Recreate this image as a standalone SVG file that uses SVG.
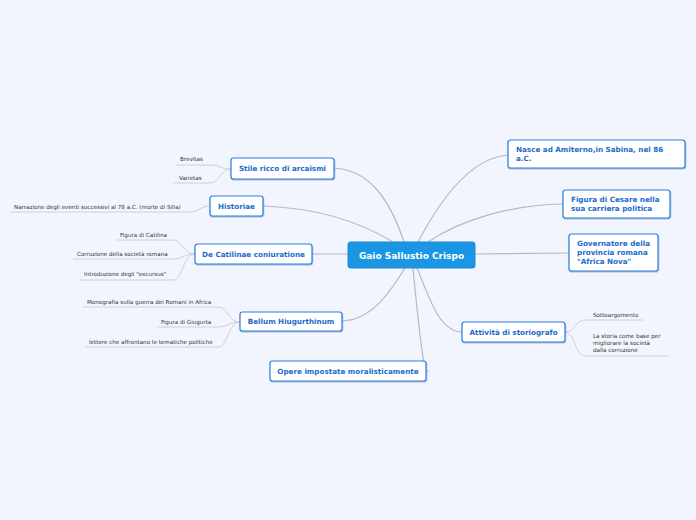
<svg xmlns="http://www.w3.org/2000/svg" width="696" height="520" viewBox="0 0 696 520">
<defs>
<filter id="sh" x="-10%" y="-20%" width="120%" height="150%"><feDropShadow dx="0.5" dy="1" stdDeviation="0.6" flood-color="#5a7fb0" flood-opacity="0.5"/></filter>
</defs>
<style>
.bg{fill:#f2f5fd}
.node rect{fill:#ffffff;stroke:#2a7fe0;stroke-width:1.2;filter:url(#sh)}
.node text{font-family:"DejaVu Sans",Verdana,sans-serif;font-weight:bold;font-size:7.2px;fill:#1a6ccc}
.root rect{fill:#1a96e2;stroke:#1a8ad8;stroke-width:1}
.root text{font-family:"DejaVu Sans",Verdana,sans-serif;font-weight:bold;font-size:9px;fill:#ffffff}
.leaf text{font-family:"DejaVu Sans",Verdana,sans-serif;font-size:5.6px;fill:#333333}
.conn path{fill:none;stroke:#b4b8c2;stroke-width:1.2}
.sub path{fill:none;stroke:#cdd0d8;stroke-width:1}
</style>
<rect class="bg" x="0" y="0" width="696" height="520"/>
<g class="conn">
<path d="M404,242 C390,200 370,170 334,168"/>
<path d="M393,242 C360,222 320,208 263,206"/>
<path d="M348,254 L312,254"/>
<path d="M405,268 C390,292 372,320 342,321"/>
<path d="M413,268 C416,300 420,340 425,370"/>
<path d="M417,268 C430,300 440,332 462,332"/>
<path d="M418,242 C440,200 470,158 508,155"/>
<path d="M428,242 C460,220 510,205 563,204"/>
<path d="M475,254 L569,253"/>
</g>
<g class="sub">
<path d="M231,169 C220,169 220,165 210,165 L176,165"/>
<path d="M231,169 C220,169 220,183 210,183 L173,183"/>
<path d="M210,206 C200,206 200,212 190,212 L10,212"/>
<path d="M195,254 C183,254 183,240 173,240 L117,240"/>
<path d="M195,254 C183,254 183,259 173,259 L73,259"/>
<path d="M195,254 C183,254 183,280 173,280 L80,280"/>
<path d="M240,322 C228,322 228,307 218,307 L83,307"/>
<path d="M240,322 C228,322 228,327 218,327 L157,327"/>
<path d="M240,322 C228,322 228,347 218,347 L85,347"/>
<path d="M565,332 C575,332 575,320 585,320 L643,320"/>
<path d="M565,332 C575,332 575,356 585,356 L668,356"/>
<path d="M426,371 L429,371"/>
</g>
<g id="root" class="root">
<rect x="348" y="242" width="127" height="26" rx="2.5"/>
<text x="411.5" y="258.5" text-anchor="middle">Gaio Sallustio Crispo</text>
</g>
<g id="n-stile" class="node">
<rect x="231" y="158" width="103" height="21" rx="2.5"/>
<text x="282.5" y="171" text-anchor="middle">Stile ricco di arcaismi</text>
</g>
<g id="n-historiae" class="node">
<rect x="210" y="196" width="53" height="20" rx="2.5"/>
<text x="236.5" y="208.5" text-anchor="middle">Historiae</text>
</g>
<g id="n-catilinae" class="node">
<rect x="195" y="244" width="117" height="20" rx="2.5"/>
<text x="253.5" y="256.5" text-anchor="middle">De Catilinae coniuratione</text>
</g>
<g id="n-bellum" class="node">
<rect x="240" y="312" width="102" height="19" rx="2.5"/>
<text x="291" y="324" text-anchor="middle">Bellum Hiugurthinum</text>
</g>
<g id="n-opere" class="node">
<rect x="270" y="361" width="156" height="20" rx="2.5"/>
<text x="348" y="373.5" text-anchor="middle">Opere impostate moralisticamente</text>
</g>
<g id="n-nasce" class="node">
<rect x="508" y="140" width="177" height="28" rx="2.5"/>
<text x="516" y="151.5">Nasce ad Amiterno,in Sabina, nel 86</text>
<text x="516" y="160.5">a.C.</text>
</g>
<g id="n-cesare" class="node">
<rect x="563" y="190" width="107" height="28" rx="2.5"/>
<text x="571" y="201.5">Figura di Cesare nella</text>
<text x="571" y="210.5">sua carriera politica</text>
</g>
<g id="n-governatore" class="node">
<rect x="569" y="234" width="89" height="37" rx="2.5"/>
<text x="577" y="246">Governatore della</text>
<text x="577" y="255">provincia romana</text>
<text x="577" y="264">"Africa Nova"</text>
</g>
<g id="n-attivita" class="node">
<rect x="462" y="322" width="103" height="20" rx="2.5"/>
<text x="513.5" y="334.5" text-anchor="middle">Attività di storiografo</text>
</g>
<g id="leaves" class="leaf">
<text x="180" y="161">Brevitas</text>
<text x="179" y="180">Varietas</text>
<text x="14" y="208.5">Narrazione degli eventi successivi al 78 a.C. (morte di Silla)</text>
<text x="120" y="236.5">Figura di Catilina</text>
<text x="77" y="256">Corruzione della società romana</text>
<text x="84" y="275.5">Introduzione degli "excursus"</text>
<text x="87" y="303.5">Monografia sulla guerra dei Romani in Africa</text>
<text x="161" y="323.5">Figura di Giugurta</text>
<text x="89" y="343.5">lettere che affrontano le tematiche politiche</text>
<text x="593" y="317">Sottoargomento</text>
<text x="593" y="338">La storia come base per</text>
<text x="593" y="345">migliorare la società</text>
<text x="593" y="352">dalla corruzione</text>
</g>
</svg>
